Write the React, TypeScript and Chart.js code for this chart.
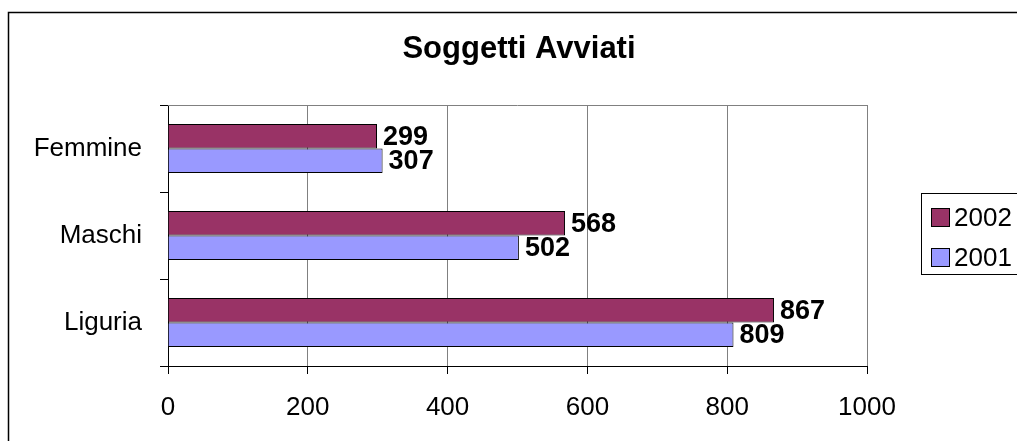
import React, { useEffect, useRef } from "react";
import { Chart, registerables } from "chart.js";

Chart.register(...registerables);

const categories = ["Femmine", "Maschi", "Liguria"];
const values2002 = [299, 568, 867];
const values2001 = [307, 502, 809];
const seriesNames = ["2002", "2001"];
const seriesColors = ["#993366", "#9999FF"];
const chartTitle = "Soggetti Avviati";
const xMin = 0;
const xMax = 1000;
const xStep = 200;

const FONT = "'Liberation Sans', Arial, Helvetica, sans-serif";

const decorPlugin = {
  id: "decor",
  beforeDraw(chart: any) {
    const { ctx, width, height } = chart;
    ctx.save();
    ctx.fillStyle = "#ffffff";
    ctx.fillRect(0, 0, width, height);
    ctx.strokeStyle = "#000000";
    ctx.lineWidth = 1.5;
    ctx.strokeRect(8.5, 12.5, width + 20, height + 20);
    ctx.restore();
  },
  beforeDatasetsDraw(chart: any) {
    const { ctx, chartArea } = chart;
    ctx.save();
    ctx.strokeStyle = "#808080";
    ctx.lineWidth = 1;
    ctx.beginPath();
    ctx.moveTo(chartArea.left, chartArea.top + 0.5);
    ctx.lineTo(chartArea.right, chartArea.top + 0.5);
    ctx.stroke();
    ctx.restore();
  },
  afterDraw(chart: any) {
    const { ctx } = chart;
    ctx.save();
    // Title
    ctx.fillStyle = "#000";
    ctx.font = `bold 31px ${FONT}`;
    ctx.textAlign = "center";
    ctx.textBaseline = "middle";
    ctx.fillText(chartTitle, 519, 49);

    // Data labels
    ctx.font = `bold 27px ${FONT}`;
    ctx.textAlign = "left";
    ctx.textBaseline = "middle";
    chart.data.datasets.forEach((ds: any, di: number) => {
      const meta = chart.getDatasetMeta(di);
      meta.data.forEach((bar: any, i: number) => {
        ctx.fillText(String(ds.data[i]), bar.x + 6, bar.y + 1);
      });
    });

    // Legend
    const lx = 921, ly = 193, lh = 81;
    ctx.strokeStyle = "#000";
    ctx.lineWidth = 1;
    ctx.strokeRect(lx + 0.5, ly + 0.5, 200, lh);
    ctx.font = `26px ${FONT}`;
    seriesNames.forEach((name, i) => {
      const cy = 218 + i * 40;
      ctx.fillStyle = seriesColors[i];
      ctx.fillRect(931.5, cy - 9.5, 18, 18);
      ctx.strokeStyle = "#000";
      ctx.strokeRect(931.5, cy - 9.5, 18, 18);
      ctx.fillStyle = "#000";
      ctx.textAlign = "left";
      ctx.textBaseline = "middle";
      ctx.fillText(name, 954, cy + 1);
    });
    ctx.restore();
  },
};

export default function App() {
  const ref = useRef<HTMLCanvasElement | null>(null);
  useEffect(() => {
    if (!ref.current) return;
    const chart = new Chart(ref.current, {
      type: "bar",
      data: {
        labels: categories,
        datasets: [
          {
            label: seriesNames[0],
            data: values2002,
            backgroundColor: seriesColors[0],
            borderColor: "#000",
            borderWidth: 1,
            categoryPercentage: 0.565,
            barPercentage: 1,
          },
          {
            label: seriesNames[1],
            data: values2001,
            backgroundColor: seriesColors[1],
            borderColor: "#000",
            borderWidth: 1,
            categoryPercentage: 0.565,
            barPercentage: 1,
          },
        ],
      },
      options: {
        indexAxis: "y",
        responsive: false,
        animation: false,
        devicePixelRatio: 1,
        layout: { padding: { left: 0, top: 105, right: 150, bottom: 0 } },
        plugins: {
          legend: { display: false },
          title: { display: false },
          tooltip: { enabled: false },
        },
        scales: {
          x: {
            type: "linear",
            min: xMin,
            max: xMax,
            ticks: {
              stepSize: xStep,
              color: "#000",
              font: { family: FONT, size: 26 },
              padding: 18,
              callback: (v: any) => String(v),
            },
            grid: {
              color: (c: any) => (c.index === 0 ? "#000" : "#808080"),
              tickColor: "#000",
              tickLength: 8,
              lineWidth: 1,
            },
            border: { color: "#000", width: 1 },
            afterFit: (s: any) => {
              s.height = 75;
            },
          },
          y: {
            type: "category",
            ticks: {
              color: "#000",
              font: { family: FONT, size: 26 },
              padding: 18,
            },
            grid: {
              offset: true,
              drawOnChartArea: false,
              tickColor: "#000",
              tickLength: 8,
            },
            border: { color: "#000", width: 1 },
            afterFit: (s: any) => {
              s.width = 168;
            },
          },
        },
      },
      plugins: [decorPlugin],
    });
    return () => chart.destroy();
  }, []);

  return (
    <div style={{ position: "fixed", left: 0, top: 0, width: 1017, height: 441, overflow: "hidden", background: "#fff" }}>
      <canvas ref={ref} width={1017} height={441} style={{ display: "block", width: 1017, height: 441 }} />
    </div>
  );
}
